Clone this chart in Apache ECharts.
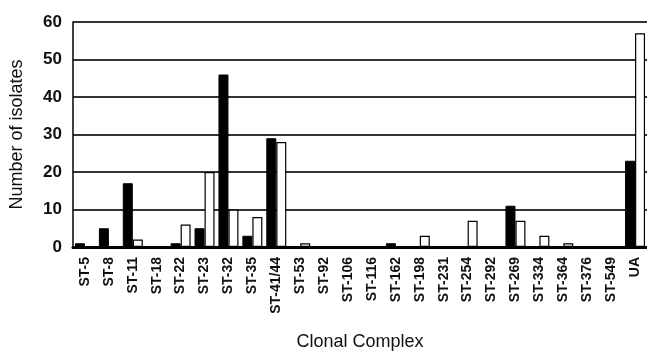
<!DOCTYPE html>
<html>
<head>
<meta charset="utf-8">
<script src="https://cdn.jsdelivr.net/npm/echarts@6/dist/echarts.min.js"></script>
<style>
html,body{margin:0;padding:0;background:#fff;}
#chart{width:647px;height:356px;}
</style>
</head>
<body>
<div id="chart"></div>
<script>
const categories = ['ST-5','ST-8','ST-11','ST-18','ST-22','ST-23','ST-32','ST-35','ST-41/44','ST-53','ST-92','ST-106','ST-116','ST-162','ST-198','ST-231','ST-254','ST-292','ST-269','ST-334','ST-364','ST-376','ST-549','UA'];
const blackValues = [1,5,17,0,1,5,46,3,29,0,0,0,0,1,0,0,0,0,11,0,0,0,0,23];
const whiteValues = [0,0,2,0,6,20,10,8,28,1,0,0,0,0,3,0,7,0,7,3,1,0,0,57];
const yTicks = [0,10,20,30,40,50,60];

const FONT = 'Liberation Sans, Arial, sans-serif';
const chart = echarts.init(document.getElementById('chart'));
chart.setOption({
  animation: false,
  backgroundColor: '#fff',
  grid: {left: 73, right: 0, top: 22, bottom: 105},
  xAxis: {
    type: 'category',
    data: categories,
    name: 'Clonal Complex',
    nameLocation: 'middle',
    nameGap: 86,
    nameTextStyle: {fontFamily: FONT, fontSize: 18, color: '#111'},
    axisLine: {show: true, lineStyle: {color: '#000', width: 3}},
    axisTick: {show: false},
    axisLabel: {rotate: 90, interval: 0, margin: 10, fontFamily: FONT, fontSize: 14, fontWeight: 'bold', color: '#111'}
  },
  yAxis: {
    type: 'value',
    min: yTicks[0],
    max: yTicks[yTicks.length - 1],
    interval: 10,
    name: 'Number of isolates',
    nameLocation: 'middle',
    nameGap: 47,
    nameRotate: 90,
    nameTextStyle: {fontFamily: FONT, fontSize: 18, color: '#111'},
    axisLine: {show: true, lineStyle: {color: '#000', width: 1.5}},
    axisTick: {show: false},
    axisLabel: {margin: 11, fontFamily: FONT, fontSize: 17, fontWeight: 'bold', color: '#111'},
    splitLine: {show: true, lineStyle: {color: '#333', width: 2}}
  },
  series: [
    {
      type: 'bar',
      data: blackValues,
      barWidth: 10,
      barGap: '0%',
      itemStyle: {color: '#000', borderColor: '#000', borderWidth: 1}
    },
    {
      type: 'bar',
      data: whiteValues,
      barWidth: 10,
      itemStyle: {color: '#fff', borderColor: '#000', borderWidth: 1.2}
    }
  ]
});
</script>
</body>
</html>
